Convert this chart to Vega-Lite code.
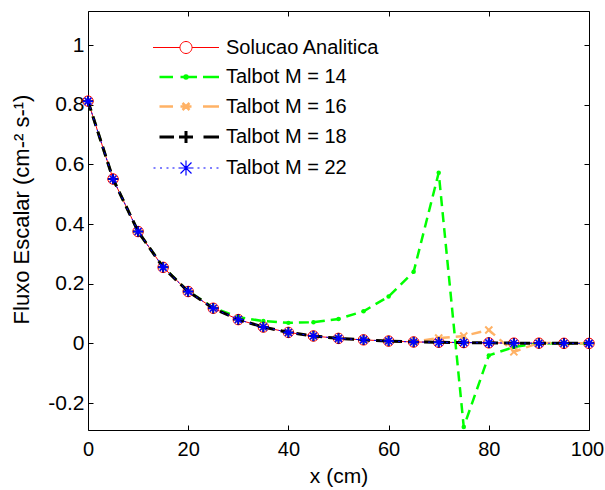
{
  "$schema": "https://vega.github.io/schema/vega-lite/v6.json",
  "width": 501,
  "height": 419,
  "autosize": {"type": "none"},
  "padding": {"left": 88, "top": 11, "right": 16, "bottom": 60},
  "background": "white",
  "data": {
    "values": [
      {"x": 0, "y": 0.812, "s": "Solucao Analitica"},
      {"x": 5, "y": 0.551, "s": "Solucao Analitica"},
      {"x": 10, "y": 0.375, "s": "Solucao Analitica"},
      {"x": 15, "y": 0.255, "s": "Solucao Analitica"},
      {"x": 20, "y": 0.174, "s": "Solucao Analitica"},
      {"x": 25, "y": 0.118, "s": "Solucao Analitica"},
      {"x": 30, "y": 0.080, "s": "Solucao Analitica"},
      {"x": 35, "y": 0.055, "s": "Solucao Analitica"},
      {"x": 40, "y": 0.037, "s": "Solucao Analitica"},
      {"x": 45, "y": 0.025, "s": "Solucao Analitica"},
      {"x": 50, "y": 0.017, "s": "Solucao Analitica"},
      {"x": 55, "y": 0.012, "s": "Solucao Analitica"},
      {"x": 60, "y": 0.008, "s": "Solucao Analitica"},
      {"x": 65, "y": 0.005, "s": "Solucao Analitica"},
      {"x": 70, "y": 0.004, "s": "Solucao Analitica"},
      {"x": 75, "y": 0.003, "s": "Solucao Analitica"},
      {"x": 80, "y": 0.002, "s": "Solucao Analitica"},
      {"x": 85, "y": 0.001, "s": "Solucao Analitica"},
      {"x": 90, "y": 0.001, "s": "Solucao Analitica"},
      {"x": 95, "y": 0.0005, "s": "Solucao Analitica"},
      {"x": 100, "y": 0.0003, "s": "Solucao Analitica"},
      {"x": 0, "y": 0.812, "s": "Talbot M = 14"},
      {"x": 5, "y": 0.551, "s": "Talbot M = 14"},
      {"x": 10, "y": 0.375, "s": "Talbot M = 14"},
      {"x": 15, "y": 0.256, "s": "Talbot M = 14"},
      {"x": 20, "y": 0.175, "s": "Talbot M = 14"},
      {"x": 25, "y": 0.120, "s": "Talbot M = 14"},
      {"x": 30, "y": 0.088, "s": "Talbot M = 14"},
      {"x": 35, "y": 0.075, "s": "Talbot M = 14"},
      {"x": 40, "y": 0.069, "s": "Talbot M = 14"},
      {"x": 45, "y": 0.071, "s": "Talbot M = 14"},
      {"x": 50, "y": 0.082, "s": "Talbot M = 14"},
      {"x": 55, "y": 0.108, "s": "Talbot M = 14"},
      {"x": 60, "y": 0.157, "s": "Talbot M = 14"},
      {"x": 65, "y": 0.240, "s": "Talbot M = 14"},
      {"x": 70, "y": 0.572, "s": "Talbot M = 14"},
      {"x": 75, "y": -0.280, "s": "Talbot M = 14"},
      {"x": 80, "y": -0.040, "s": "Talbot M = 14"},
      {"x": 85, "y": -0.012, "s": "Talbot M = 14"},
      {"x": 90, "y": 0.000, "s": "Talbot M = 14"},
      {"x": 95, "y": 0.0005, "s": "Talbot M = 14"},
      {"x": 100, "y": 0.0003, "s": "Talbot M = 14"},
      {"x": 0, "y": 0.812, "s": "Talbot M = 16"},
      {"x": 5, "y": 0.551, "s": "Talbot M = 16"},
      {"x": 10, "y": 0.375, "s": "Talbot M = 16"},
      {"x": 15, "y": 0.255, "s": "Talbot M = 16"},
      {"x": 20, "y": 0.174, "s": "Talbot M = 16"},
      {"x": 25, "y": 0.118, "s": "Talbot M = 16"},
      {"x": 30, "y": 0.080, "s": "Talbot M = 16"},
      {"x": 35, "y": 0.055, "s": "Talbot M = 16"},
      {"x": 40, "y": 0.037, "s": "Talbot M = 16"},
      {"x": 45, "y": 0.025, "s": "Talbot M = 16"},
      {"x": 50, "y": 0.017, "s": "Talbot M = 16"},
      {"x": 55, "y": 0.012, "s": "Talbot M = 16"},
      {"x": 60, "y": 0.008, "s": "Talbot M = 16"},
      {"x": 65, "y": 0.006, "s": "Talbot M = 16"},
      {"x": 70, "y": 0.018, "s": "Talbot M = 16"},
      {"x": 75, "y": 0.025, "s": "Talbot M = 16"},
      {"x": 80, "y": 0.045, "s": "Talbot M = 16"},
      {"x": 85, "y": -0.028, "s": "Talbot M = 16"},
      {"x": 90, "y": 0.002, "s": "Talbot M = 16"},
      {"x": 95, "y": 0.0005, "s": "Talbot M = 16"},
      {"x": 100, "y": 0.0003, "s": "Talbot M = 16"},
      {"x": 0, "y": 0.812, "s": "Talbot M = 18"},
      {"x": 5, "y": 0.551, "s": "Talbot M = 18"},
      {"x": 10, "y": 0.375, "s": "Talbot M = 18"},
      {"x": 15, "y": 0.255, "s": "Talbot M = 18"},
      {"x": 20, "y": 0.174, "s": "Talbot M = 18"},
      {"x": 25, "y": 0.118, "s": "Talbot M = 18"},
      {"x": 30, "y": 0.080, "s": "Talbot M = 18"},
      {"x": 35, "y": 0.055, "s": "Talbot M = 18"},
      {"x": 40, "y": 0.037, "s": "Talbot M = 18"},
      {"x": 45, "y": 0.025, "s": "Talbot M = 18"},
      {"x": 50, "y": 0.017, "s": "Talbot M = 18"},
      {"x": 55, "y": 0.012, "s": "Talbot M = 18"},
      {"x": 60, "y": 0.008, "s": "Talbot M = 18"},
      {"x": 65, "y": 0.005, "s": "Talbot M = 18"},
      {"x": 70, "y": 0.004, "s": "Talbot M = 18"},
      {"x": 75, "y": 0.003, "s": "Talbot M = 18"},
      {"x": 80, "y": 0.002, "s": "Talbot M = 18"},
      {"x": 85, "y": 0.001, "s": "Talbot M = 18"},
      {"x": 90, "y": 0.001, "s": "Talbot M = 18"},
      {"x": 95, "y": 0.0005, "s": "Talbot M = 18"},
      {"x": 100, "y": 0.0003, "s": "Talbot M = 18"},
      {"x": 0, "y": 0.812, "s": "Talbot M = 22"},
      {"x": 5, "y": 0.551, "s": "Talbot M = 22"},
      {"x": 10, "y": 0.375, "s": "Talbot M = 22"},
      {"x": 15, "y": 0.255, "s": "Talbot M = 22"},
      {"x": 20, "y": 0.174, "s": "Talbot M = 22"},
      {"x": 25, "y": 0.118, "s": "Talbot M = 22"},
      {"x": 30, "y": 0.080, "s": "Talbot M = 22"},
      {"x": 35, "y": 0.055, "s": "Talbot M = 22"},
      {"x": 40, "y": 0.037, "s": "Talbot M = 22"},
      {"x": 45, "y": 0.025, "s": "Talbot M = 22"},
      {"x": 50, "y": 0.017, "s": "Talbot M = 22"},
      {"x": 55, "y": 0.012, "s": "Talbot M = 22"},
      {"x": 60, "y": 0.008, "s": "Talbot M = 22"},
      {"x": 65, "y": 0.005, "s": "Talbot M = 22"},
      {"x": 70, "y": 0.004, "s": "Talbot M = 22"},
      {"x": 75, "y": 0.003, "s": "Talbot M = 22"},
      {"x": 80, "y": 0.002, "s": "Talbot M = 22"},
      {"x": 85, "y": 0.001, "s": "Talbot M = 22"},
      {"x": 90, "y": 0.001, "s": "Talbot M = 22"},
      {"x": 95, "y": 0.0005, "s": "Talbot M = 22"},
      {"x": 100, "y": 0.0003, "s": "Talbot M = 22"}
    ]
  },
  "encoding": {
    "x": {"field": "x", "type": "quantitative", "scale": {"domain": [0, 100], "nice": false, "zero": false}, "axis": null},
    "y": {"field": "y", "type": "quantitative", "scale": {"domain": [-0.29, 1.114], "nice": false, "zero": false}, "axis": null}
  },
  "resolve": {"axis": {"x": "independent", "y": "independent"}},
  "layer": [
    {
      "transform": [{"filter": "datum.s === 'Solucao Analitica'"}],
      "mark": {"type": "line", "color": "#ff0000", "strokeWidth": 1},
      "encoding": {
        "x": {"field": "x", "type": "quantitative", "scale": {"domain": [0, 100], "nice": false, "zero": false},
          "axis": {"orient": "bottom", "values": [0, 20, 40, 60, 80, 100], "title": "x (cm)", "labelFontSize": 20, "labelPadding": 14, "titlePadding": 6, "labelFlush": false,
            "labelOffset": {"condition": {"test": "datum.value === 100", "value": -2}, "value": 0}}},
        "y": {"field": "y", "type": "quantitative", "scale": {"domain": [-0.29, 1.114], "nice": false, "zero": false},
          "axis": {"orient": "left", "values": [-0.2, 0, 0.2, 0.4, 0.6, 0.8, 1], "labelExpr": "toString(datum.value)", "title": "Fluxo Escalar (cm-² s-¹)", "titleFontSize": 22, "labelPadding": 9, "titlePadding": 14, "labelFlush": false, "titleY": 198}}
      }
    },
    {
      "transform": [{"filter": "datum.s === 'Solucao Analitica'"}],
      "mark": {"type": "point", "shape": "circle", "size": 110, "filled": false, "color": "#ff0000", "strokeWidth": 1, "opacity": 1}
    },
    {
      "transform": [{"filter": "datum.s === 'Talbot M = 14'"}],
      "mark": {"type": "line", "color": "#00ff00", "strokeWidth": 2.5, "strokeDash": [10, 6]}
    },
    {
      "transform": [{"filter": "datum.s === 'Talbot M = 14'"}],
      "mark": {"type": "point", "shape": "circle", "size": 20, "filled": true, "color": "#00ff00", "opacity": 1}
    },
    {
      "transform": [{"filter": "datum.s === 'Talbot M = 16'"}],
      "mark": {"type": "line", "color": "#ffb266", "strokeWidth": 2.5, "strokeDash": [10, 6]}
    },
    {
      "transform": [{"filter": "datum.s === 'Talbot M = 16'"}],
      "mark": {"type": "point", "shape": "M-1,-1L1,1M-1,1L1,-1", "size": 50, "filled": false, "color": "#ffb266", "strokeWidth": 2, "opacity": 1}
    },
    {
      "transform": [{"filter": "datum.s === 'Talbot M = 18'"}],
      "mark": {"type": "line", "color": "#000000", "strokeWidth": 3, "strokeDash": [10, 6]}
    },
    {
      "transform": [{"filter": "datum.s === 'Talbot M = 18'"}],
      "mark": {"type": "point", "shape": "M-1,0L1,0M0,-1L0,1", "size": 110, "filled": false, "color": "#000000", "strokeWidth": 2, "opacity": 1}
    },
    {
      "transform": [{"filter": "datum.s === 'Talbot M = 22'"}],
      "mark": {"type": "line", "color": "#0000ff", "strokeWidth": 1, "strokeDash": [2, 4]}
    },
    {
      "transform": [{"filter": "datum.s === 'Talbot M = 22'"}],
      "mark": {"type": "point", "shape": "M-1,0L1,0M0,-1L0,1M-0.7,-0.7L0.7,0.7M-0.7,0.7L0.7,-0.7", "size": 100, "filled": false, "color": "#0000ff", "strokeWidth": 1.5, "opacity": 1}
    },
    {
      "transform": [{"filter": "false"}],
      "mark": {"type": "point", "filled": false, "opacity": 1},
      "encoding": {
        "x": {"field": "x", "type": "quantitative", "scale": {"domain": [0, 100], "nice": false, "zero": false},
          "axis": {"orient": "top", "values": [0, 20, 40, 60, 80, 100], "labels": false, "title": null}},
        "y": {"field": "y", "type": "quantitative", "scale": {"domain": [-0.29, 1.114], "nice": false, "zero": false},
          "axis": {"orient": "right", "values": [-0.2, 0, 0.2, 0.4, 0.6, 0.8, 1], "labels": false, "title": null}},
        "shape": {"field": "s", "type": "nominal", "title": null,
          "scale": {"domain": ["Solucao Analitica", "Talbot M = 14", "Talbot M = 16", "Talbot M = 18", "Talbot M = 22"],
            "range": [
              "M-3.3,0L-0.6,0M0.6,0L3.3,0M0.6,0A0.6,0.6,0,1,1,-0.6,0A0.6,0.6,0,1,1,0.6,0",
              "M-2.65,0L-1.3,0M-0.55,0L1.1,0M1.7,0L3.3,0M0.15,0A0.15,0.15,0,1,1,-0.15,0A0.15,0.15,0,1,1,0.15,0",
              "M-2.65,0L-1.3,0M-0.55,0L0.55,0M1.7,0L3.3,0M-0.35,-0.35L0.35,0.35M-0.35,0.35L0.35,-0.35",
              "M-2.65,0L-1.2,0M-0.7,0L0.7,0M0,-0.6L0,0.6M1.75,0L3.3,0",
              "M-3.25,0L-3.05,0M-2.6,0L-2.4,0M-1.95,0L-1.75,0M-1.35,0L-1.15,0M1.15,0L1.35,0M1.75,0L1.95,0M2.4,0L2.6,0M3.05,0L3.25,0M-0.75,0L0.75,0M0,-0.75L0,0.75M-0.55,-0.55L0.55,0.55M-0.55,0.55L0.55,-0.55"
            ]}},
        "stroke": {"field": "s", "type": "nominal", "title": null,
          "scale": {"domain": ["Solucao Analitica", "Talbot M = 14", "Talbot M = 16", "Talbot M = 18", "Talbot M = 22"],
            "range": ["#ff0000", "#00ff00", "#ffb266", "#000000", "#0000ff"]}},
        "strokeWidth": {"field": "s", "type": "nominal", "title": null,
          "scale": {"type": "ordinal", "domain": ["Solucao Analitica", "Talbot M = 14", "Talbot M = 16", "Talbot M = 18", "Talbot M = 22"],
            "range": [1, 2.5, 2.5, 3, 1.2]}}
      }
    }
  ],
  "config": {
    "font": "Liberation Sans",
    "view": {"stroke": null},
    "axis": {
      "grid": false,
      "domainColor": "#000000",
      "domainWidth": 1,
      "tickColor": "#000000",
      "tickWidth": 1,
      "tickSize": -5,
      "labelColor": "#000000",
      "labelFontSize": 21,
      "labelFont": "Liberation Sans",
      "titleColor": "#000000",
      "titleFontSize": 21,
      "titleFont": "Liberation Sans",
      "titleFontWeight": "normal"
    },
    "legend": {
      "orient": "none",
      "legendX": 86.5,
      "legendY": 26,
      "padding": 0,
      "symbolSize": 400,
      "labelFontSize": 20,
      "labelFont": "Liberation Sans",
      "labelColor": "#000000",
      "labelOffset": 28.5,
      "labelLimit": 300,
      "rowPadding": 7.5
    }
  }
}
